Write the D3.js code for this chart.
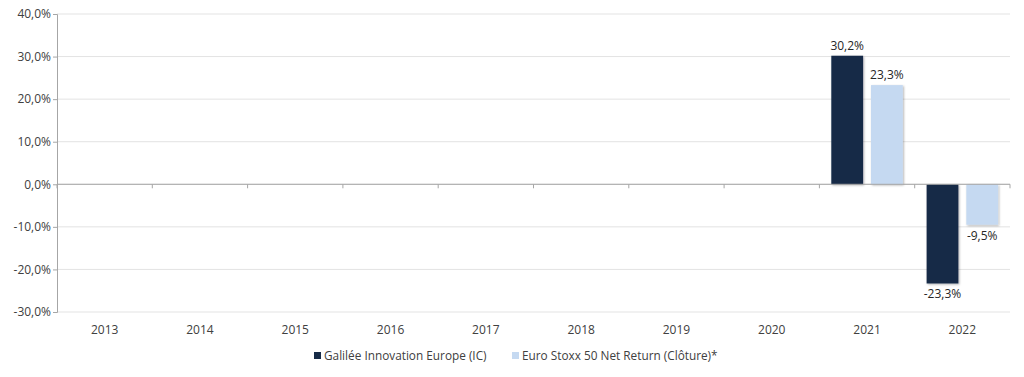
<!DOCTYPE html>
<html>
<head>
<meta charset="utf-8">
<script src="https://cdn.jsdelivr.net/npm/d3@7"></script>
<style>
  body { margin: 0; background: #fff; }
  text { font-family: "Open Sans", "Noto Sans", sans-serif; }
</style>
</head>
<body>
<div id="chart"></div>
<script>
// Data
const years = ["2013", "2014", "2015", "2016", "2017", "2018", "2019", "2020", "2021", "2022"];
const seriesNames = ["Galilée Innovation Europe (IC)", "Euro Stoxx 50 Net Return (Clôture)*"];
const fundValues = [null, null, null, null, null, null, null, null, 30.2, -23.3];
const indexValues = [null, null, null, null, null, null, null, null, 23.3, -9.5];
const yTicks = [-30, -20, -10, 0, 10, 20, 30, 40];
const colors = ["#172b47", "#c5d9f1"];

const width = 1024;
const height = 377;
const margin = { top: 14, right: 14, bottom: 65, left: 57 };

const svg = d3.select("#chart")
    .append("svg")
    .attr("width", width)
    .attr("height", height);

// soft shadow under the bars
const defs = svg.append("defs");
const shadow = defs.append("filter").attr("id", "shadow")
    .attr("x", "-10%").attr("y", "-10%").attr("width", "130%").attr("height", "130%");
shadow.append("feDropShadow")
    .attr("dx", 1).attr("dy", 1).attr("stdDeviation", 0.8)
    .attr("flood-color", "#000").attr("flood-opacity", 0.3);

const x = d3.scaleBand()
    .domain(years)
    .range([margin.left, width - margin.right])
    .paddingInner(0)
    .paddingOuter(0);

const x1 = d3.scaleBand()
    .domain([0, 1])
    .range([0, x.bandwidth()])
    .paddingInner(0.2)
    .paddingOuter(0.3);

const y = d3.scaleLinear()
    .domain([-30, 40])
    .range([height - margin.bottom, margin.top]);

const fmt = v => d3.format(".1f")(v).replace(".", ",").replace("−", "-") + "%";

// Gridlines
svg.append("g")
    .selectAll("line")
    .data(yTicks)
    .join("line")
    .attr("x1", margin.left)
    .attr("x2", width - margin.right)
    .attr("y1", d => y(d))
    .attr("y2", d => y(d))
    .attr("stroke", "#e3e3e3")
    .attr("stroke-width", 1);

// Y axis
const yAxis = svg.append("g")
    .attr("transform", `translate(${margin.left},0)`)
    .call(d3.axisLeft(y).tickValues(yTicks).tickSize(4).tickFormat(fmt));
yAxis.select(".domain").attr("stroke", "#a6a6a6");
yAxis.selectAll(".tick line").attr("stroke", "#a6a6a6");
yAxis.selectAll(".tick text")
    .attr("x", -6)
    .attr("fill", "#404040")
    .style("font-size", "12px");

// Bars + value labels
const seriesValues = [fundValues, indexValues];
seriesValues.forEach((vals, s) => {
    const pts = years.map((yr, i) => ({ yr, v: vals[i] })).filter(d => d.v !== null);

    svg.append("g")
        .selectAll("rect")
        .data(pts)
        .join("rect")
        .attr("x", d => x(d.yr) + x1(s))
        .attr("width", x1.bandwidth())
        .attr("y", d => y(Math.max(0, d.v)))
        .attr("height", d => Math.abs(y(d.v) - y(0)))
        .attr("fill", colors[s])
        .attr("filter", "url(#shadow)");

    svg.append("g")
        .selectAll("text")
        .data(pts)
        .join("text")
        .attr("x", d => x(d.yr) + x1(s) + x1.bandwidth() / 2)
        .attr("y", d => d.v >= 0 ? y(d.v) - 6 : y(d.v) + 15)
        .attr("text-anchor", "middle")
        .attr("fill", "#262626")
        .style("font-size", "12px")
        .text(d => fmt(d.v));
});

// Zero axis with category ticks
const xAxis = svg.append("g")
    .attr("transform", `translate(0,${y(0)})`);
xAxis.append("line")
    .attr("x1", margin.left)
    .attr("x2", width - margin.right)
    .attr("stroke", "#a6a6a6");
xAxis.selectAll(".cat-tick")
    .data(years.concat(["end"]))
    .join("line")
    .attr("x1", (d, i) => margin.left + i * x.bandwidth())
    .attr("x2", (d, i) => margin.left + i * x.bandwidth())
    .attr("y1", 0)
    .attr("y2", 4)
    .attr("stroke", "#a6a6a6");

// Year labels
svg.append("g")
    .selectAll("text")
    .data(years)
    .join("text")
    .attr("x", d => x(d) + x.bandwidth() / 2)
    .attr("y", height - margin.bottom + 22)
    .attr("text-anchor", "middle")
    .attr("fill", "#404040")
    .style("font-size", "12px")
    .text(d => d);

// Legend
const legend = svg.append("g").attr("transform", `translate(314,360)`);
const legendX = [0, 198];
seriesNames.forEach((name, i) => {
    const g = legend.append("g").attr("transform", `translate(${legendX[i]},0)`);
    g.append("rect")
        .attr("x", 0).attr("y", -8)
        .attr("width", 7).attr("height", 7)
        .attr("fill", colors[i]);
    g.append("text")
        .attr("x", 10).attr("y", 0)
        .attr("fill", "#404040")
        .style("font-size", "11.8px")
        .text(name);
});
</script>
</body>
</html>
